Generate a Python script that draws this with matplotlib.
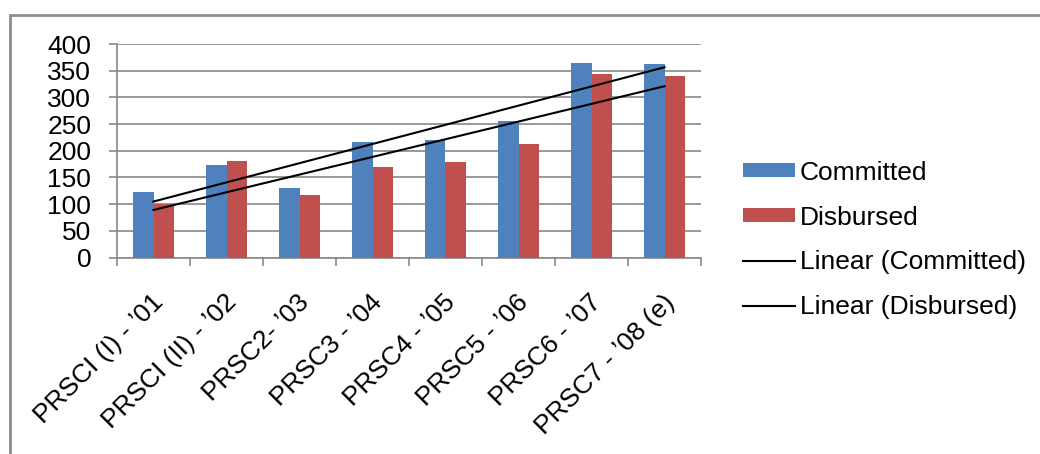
import numpy as np
import matplotlib
matplotlib.use("Agg")
import matplotlib.pyplot as plt
from matplotlib.transforms import ScaledTranslation
from matplotlib.patches import Rectangle

plt.rcParams['font.family'] = ['Liberation Sans', 'DejaVu Sans']

categories = ["PRSCI (I) - \u201901", "PRSCI (II) - \u201902", "PRSC2- \u201903",
              "PRSC3 - \u201904", "PRSC4 - \u201905", "PRSC5 - \u201906",
              "PRSC6 - \u201907", "PRSC7 - \u201908 (e)"]
committed = [122, 173, 131, 216, 220, 256, 365, 362]
disbursed = [101, 180, 117, 169, 178, 212, 343, 340]
y_ticks = [0, 50, 100, 150, 200, 250, 300, 350, 400]

BLUE = '#4F81BD'
RED = '#C0504D'
GRAY = '#898989'
FS = 19

fig = plt.figure(figsize=(10.4, 4.54), dpi=100)
ax = fig.add_axes([117 / 1040, 1 - 257.5 / 454, (701 - 117) / 1040, (257.5 - 44) / 454])

x = np.arange(len(categories))
w = 0.283
bars_c = ax.bar(x - w / 2, committed, width=w, color=BLUE, label='Committed', zorder=3)
bars_d = ax.bar(x + w / 2, disbursed, width=w, color=RED, label='Disbursed', zorder=3)

# least-squares trend lines over category index
trend_handles = []
for vals, lab in ((committed, 'Linear (Committed)'), (disbursed, 'Linear (Disbursed)')):
    k, b = np.polyfit(x, vals, 1)
    ln, = ax.plot(x, k * x + b, color='black', lw=1.5, label=lab, zorder=4)
    trend_handles.append(ln)

ax.set_xlim(-0.5, len(categories) - 0.5)
ax.set_ylim(0, 400)
ax.set_yticks(y_ticks)
ax.set_yticklabels([str(v) for v in y_ticks], fontsize=FS)
ax.yaxis.grid(True, color=GRAY, lw=1.2, zorder=0)
ax.set_axisbelow(True)

# boundary ticks between categories, labels on category centres
ax.set_xticks(np.arange(-0.5, len(categories), 1.0))
ax.set_xticklabels([])
ax.set_xticks(x, minor=True)
ax.set_xticklabels(categories, minor=True, fontsize=FS, rotation=45,
                   ha='right', va='center', rotation_mode='anchor')
ax.tick_params(axis='x', which='major', length=5.5, width=1.2, color=GRAY, direction='out')
ax.tick_params(axis='x', which='minor', length=0, pad=29.5)
ax.tick_params(axis='y', length=5.5, width=1.2, color=GRAY, direction='out', pad=13)
shift = ScaledTranslation(4.5 / 72, 0, fig.dpi_scale_trans)
for t in ax.get_xticklabels(minor=True):
    t.set_transform(t.get_transform() + shift)

for s in ('top', 'right'):
    ax.spines[s].set_visible(False)
for s in ('left', 'bottom'):
    ax.spines[s].set_color(GRAY)
    ax.spines[s].set_linewidth(1.2)

handles = [bars_c, bars_d] + trend_handles
labels = [h.get_label() for h in handles]
fig.legend(handles, labels, loc='center left', bbox_to_anchor=(743 / 1040, 1 - 240 / 454),
           frameon=False, fontsize=FS, handlelength=1.97, handleheight=0.45,
           handletextpad=0.19, labelspacing=0.79, borderpad=0, borderaxespad=0)

# chart frame
fig.patches.append(Rectangle((9.5 / 1040, -0.1), 1.2, 1 - 15 / 454 + 0.1,
                             transform=fig.transFigure, fill=False,
                             edgecolor='#8e8e8e', lw=2.0))

fig.savefig('out.png', dpi=100, facecolor='white')
